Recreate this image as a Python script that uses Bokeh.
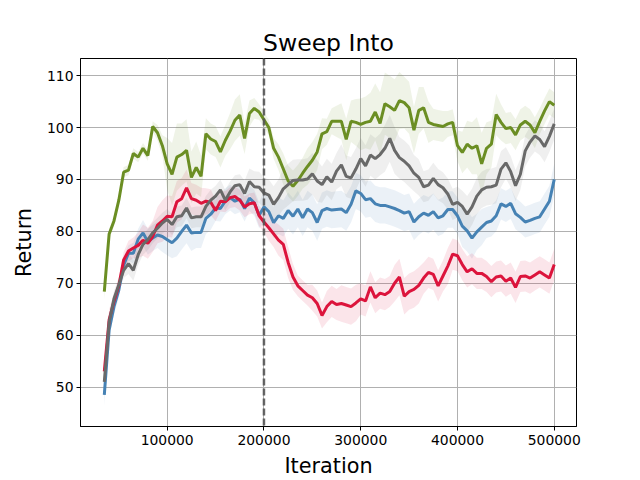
from bokeh.plotting import figure
from bokeh.models import Span, FixedTicker, NumeralTickFormatter
from bokeh.embed import file_html
from bokeh.resources import INLINE

iterations = [35000, 40000, 45000, 50000, 55000, 60000, 65000, 70000, 75000, 80000,
              85000, 90000, 95000, 100000, 105000, 110000, 115000, 120000, 125000, 130000,
              135000, 140000, 145000, 150000, 155000, 160000, 165000, 170000, 175000, 180000,
              185000, 190000, 195000, 200000, 205000, 210000, 215000, 220000, 225000, 230000,
              235000, 240000, 245000, 250000, 255000, 260000, 265000, 270000, 275000, 280000,
              285000, 290000, 295000, 300000, 305000, 310000, 315000, 320000, 325000, 330000,
              335000, 340000, 345000, 350000, 355000, 360000, 365000, 370000, 375000, 380000,
              385000, 390000, 395000, 400000, 405000, 410000, 415000, 420000, 425000, 430000,
              435000, 440000, 445000, 450000, 455000, 460000, 465000, 470000, 475000, 480000,
              485000, 490000, 495000, 500000]

green = [68.4, 79.5, 82.0, 86.0, 91.4, 91.8, 95.0, 94.3, 96.0, 94.6,
         100.2, 99.0, 96.5, 93.0, 91.0, 94.3, 94.8, 95.6, 90.4, 92.3,
         90.6, 98.8, 97.8, 97.3, 95.3, 97.5, 99.3, 101.4, 102.4, 97.9,
         102.7, 103.7, 103.0, 101.5, 100.0, 96.0, 94.3, 92.0, 89.7, 88.7,
         89.8, 91.2, 92.5, 93.7, 95.3, 98.8, 99.2, 101.2, 101.2, 101.2,
         97.7, 101.2, 101.0, 100.6, 101.0, 101.2, 103.0, 100.8, 104.6, 104.0,
         103.3, 105.2, 104.8, 103.8, 99.5, 103.3, 103.8, 101.0, 100.6, 100.4,
         100.2, 100.7, 101.0, 96.5, 95.2, 96.8, 96.0, 96.5, 93.0, 96.0,
         96.8, 102.5, 101.0, 99.8, 100.0, 98.6, 100.5, 101.2, 100.5, 99.0,
         101.2, 103.2, 105.0, 104.3]

red = [53.0, 63.0, 66.5, 69.5, 74.5, 76.2, 76.8, 77.3, 78.3, 77.7,
       79.0, 81.2, 82.0, 82.9, 82.8, 85.7, 86.3, 88.4, 86.3, 86.0,
       85.4, 85.8, 85.6, 84.0, 85.8, 85.7, 86.5, 86.7, 86.0, 84.7,
       85.3, 85.5, 83.0, 81.8, 80.7, 79.5, 78.3, 77.5, 74.0, 71.2,
       69.5, 68.6, 67.7, 67.2, 66.1, 63.8, 65.5, 66.5, 65.9, 66.1,
       65.8, 65.5, 66.2, 67.0, 66.6, 69.3, 67.2, 68.1, 67.8, 68.4,
       70.0, 71.2, 67.5, 68.4, 68.8, 69.6, 71.0, 72.1, 71.7, 69.5,
       71.4, 73.3, 75.6, 75.3, 73.6, 72.2, 72.8, 71.9, 71.9, 71.3,
       70.3, 71.2, 71.4, 70.4, 71.0, 69.2, 71.3, 71.4, 71.0, 71.6,
       72.2, 71.6, 71.0, 73.6]

blue = [48.5, 61.0, 65.5, 68.7, 73.5, 75.8, 75.8, 78.5, 79.7, 78.0,
        78.7, 79.3, 79.0, 78.4, 77.8, 78.7, 80.0, 81.2, 79.7, 79.8,
        79.8, 82.5, 83.3, 84.5, 84.4, 85.8, 86.5, 85.8, 86.2, 84.4,
        86.4, 85.5, 83.1, 84.7, 83.8, 81.7, 83.0, 82.5, 84.0, 82.9,
        84.3, 82.6, 84.3, 83.6, 81.7, 84.0, 84.4, 84.1, 84.2, 84.3,
        83.6, 85.2, 87.8, 87.3, 86.1, 86.3, 85.3, 85.0, 85.0, 84.7,
        84.4, 84.0, 83.5, 83.8, 81.8, 82.8, 83.5, 83.1, 83.8, 82.6,
        83.0, 84.2, 84.2, 83.0, 81.0, 80.1, 78.7, 79.9, 80.8, 81.7,
        82.0, 83.0, 85.3, 84.8, 85.4, 83.4, 82.7, 81.8, 82.1, 82.5,
        82.8, 84.3, 85.8, 90.0]

gray = [51.0, 62.5, 67.0, 69.7, 72.5, 73.8, 72.5, 75.5, 77.5, 78.4,
        79.7, 80.6, 81.6, 82.3, 81.3, 82.8, 83.0, 84.5, 82.6, 82.8,
        82.8, 84.8, 86.0, 86.8, 88.0, 86.0, 87.6, 88.8, 89.0, 87.3,
        89.6, 88.6, 88.5, 87.4, 87.0, 85.2, 86.5, 88.2, 89.0, 89.8,
        89.9, 89.9, 90.1, 91.1, 89.7, 89.0, 90.5, 89.5, 91.6, 92.8,
        90.6, 90.3, 92.0, 94.0, 92.6, 94.7, 94.0, 94.8, 96.0, 97.9,
        95.6, 94.2, 93.5, 92.6, 91.2, 90.4, 88.6, 88.9, 90.2, 89.0,
        88.4, 87.2, 85.2, 85.6, 84.8, 83.3, 84.7, 86.8, 88.0, 88.5,
        88.6, 88.9, 92.0, 93.2, 91.5, 88.8, 91.0, 95.5, 97.2, 98.4,
        97.7, 96.3, 98.3, 100.7]

green_spread = [1.5, 1, 1, 1, 1, 1, 1, 1, 1, 1,
                1, 1.5, 2, 5, 6, 6.5, 6, 6, 5, 5,
                4, 3, 3, 3, 3, 3, 3.5, 4, 4, 3,
                2.5, 2, 1.5, 1.5, 1.5, 2, 2.5, 3, 3, 3,
                3, 3, 3.5, 3.5, 3.5, 3, 2.5, 2.5, 3, 3.5,
                4, 4, 4.5, 5, 5, 5.5, 5.5, 6, 6, 6,
                6, 5.5, 5, 5, 4.5, 4.5, 4, 4, 3, 3,
                3, 2.5, 2.5, 3, 4, 4.5, 5, 5.5, 6, 5,
                4.5, 4, 3.5, 3, 3, 3, 3, 3, 3, 3,
                2.5, 2.5, 2.5, 2.5]

red_spread = [2, 2, 1.5, 1.5, 1.5, 2, 2, 2.5, 3, 3,
              3, 3.5, 4, 4, 4, 4, 4, 3.5, 3, 3,
              3, 2.5, 2.5, 2, 2, 2, 2, 2, 2, 2,
              2, 2, 2, 2, 2.5, 2.5, 3, 3, 3, 2.5,
              2, 2, 2, 2.5, 2.5, 2.5, 3, 3, 3, 3.5,
              3.5, 3.5, 3.5, 3, 3, 3, 3, 3, 3, 3,
              3.5, 3.5, 3.5, 3.5, 3.5, 3.5, 3, 3, 3, 3,
              3, 3.5, 3, 3, 3, 3, 3, 3, 3, 3,
              3, 3, 3, 3, 3, 3, 3, 3, 3, 3,
              3, 3, 3, 3]

blue_spread = [2, 1.5, 1.5, 1.5, 1.5, 1.5, 2, 2, 2.5, 2.5,
               2.5, 2.5, 3, 3, 3, 3.5, 3.5, 3.5, 3.5, 3,
               3, 3, 3, 2.5, 2.5, 2.5, 2.5, 2.5, 2.5, 2.5,
               2.5, 2.5, 2.5, 3, 3, 3, 3.5, 3.5, 3.5, 3.5,
               3.5, 3.5, 3.5, 3.5, 3.5, 3.5, 3.5, 3.5, 3.5, 3.5,
               3.5, 3.5, 3.5, 3.5, 3.5, 3.5, 3.5, 3.5, 3.5, 3.5,
               3.5, 3.5, 3.5, 3.5, 3.5, 3.5, 3.5, 3.5, 3.5, 3.5,
               3.5, 3.5, 3.5, 3.5, 4, 4, 4, 3.5, 3.5, 3,
               3, 3, 3, 3, 3, 3, 3, 3, 3, 3,
               3, 3, 3, 3]

gray_spread = [2, 1.5, 1.5, 1.5, 1.5, 2, 2, 2, 2, 2,
               2, 2, 2, 2, 2, 2, 2, 2, 2, 2,
               2, 2, 2, 2, 2, 2, 2, 2, 2, 2.5,
               2.5, 3, 3, 3, 3, 3.5, 3.5, 4, 4, 4,
               4, 4, 4, 4, 4, 3.5, 3.5, 3.5, 3.5, 4,
               4, 4, 4, 4, 4, 4, 4, 4, 4.5, 4.5,
               4.5, 4, 4, 4, 3.5, 3.5, 3, 3, 3, 3,
               3, 3, 3, 3, 3, 3.5, 3.5, 3.5, 3.5, 3.5,
               3.5, 3.5, 3.5, 3, 3, 3, 3, 3, 3, 3,
               3, 3, 3, 3]

x_ticks = [100000, 200000, 300000, 400000, 500000]
y_ticks = [50, 60, 70, 80, 90, 100, 110]
split_iteration = 200000

series = [
    (blue, blue_spread, "#4682B4"),
    (red, red_spread, "#DC143C"),
    (green, green_spread, "#6B8E23"),
    (gray, gray_spread, "#696969"),
]

p = figure(width=640, height=480, output_backend="svg", toolbar_location=None,
           x_range=(10400, 523000), y_range=(42.4, 113.3),
           min_border_left=80, min_border_right=64, min_border_top=58,
           min_border_bottom=53, title="Sweep Into")

p.title.align = "center"
p.title.text_font = "DejaVu Sans"
p.title.text_font_size = "23.5px"
p.title.text_font_style = "normal"
p.title.text_color = "black"
p.title.standoff = 3

for vals, spread, color in series:
    lo = [v - s for v, s in zip(vals, spread)]
    hi = [v + s for v, s in zip(vals, spread)]
    p.varea(x=iterations, y1=lo, y2=hi, fill_color=color, fill_alpha=0.11)

for vals, spread, color in series:
    p.line(iterations, vals, line_color=color, line_width=3)

p.add_layout(Span(location=split_iteration, dimension="height", line_color="#555555",
                  line_width=2.5, line_dash="7 3", line_alpha=0.9))

p.xaxis.ticker = FixedTicker(ticks=x_ticks)
p.yaxis.ticker = FixedTicker(ticks=y_ticks)
p.xaxis.formatter = NumeralTickFormatter(format="0")
p.xaxis.axis_label = "Iteration"
p.yaxis.axis_label = "Return"
for ax in (p.xaxis, p.yaxis):
    ax.axis_label_text_font = "DejaVu Sans"
    ax.axis_label_text_font_size = "20.8px"
    ax.axis_label_text_font_style = "normal"
    ax.axis_label_text_color = "black"
    ax.major_label_text_font = "DejaVu Sans"
    ax.major_label_text_font_size = "13.9px"
    ax.major_label_text_color = "black"
    ax.major_tick_in = 0
    ax.major_tick_out = 4
    ax.major_tick_line_color = "black"
    ax.minor_tick_line_color = None
    ax.axis_line_color = "black"
p.xaxis.major_label_standoff = 4
p.xaxis.axis_label_standoff = 6
p.yaxis.major_label_standoff = 3
p.yaxis.axis_label_standoff = 8

p.grid.grid_line_color = "#b0b0b0"
p.grid.grid_line_width = 1
p.outline_line_color = "black"
p.outline_line_width = 1
p.background_fill_color = "white"
p.border_fill_color = "white"

open("out.html", "w").write(file_html(p, INLINE))
